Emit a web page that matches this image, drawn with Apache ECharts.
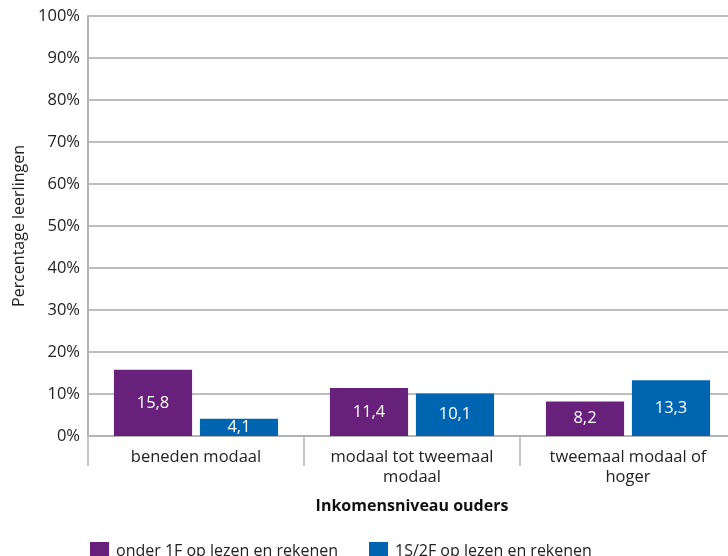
<!DOCTYPE html>
<html><head><meta charset="utf-8">
<script src="https://cdn.jsdelivr.net/npm/echarts@6/dist/echarts.min.js"></script>
<style>html,body{margin:0;padding:0;background:#fff;overflow:hidden}#c{width:736px;height:556px}</style>
</head><body><div id="c"></div>
<script>
const categories = ['beneden modaal', 'modaal tot tweemaal\nmodaal', 'tweemaal modaal of\nhoger'];
const seriesNames = ['onder 1F op lezen en rekenen', '1S/2F op lezen en rekenen'];
const onder1F = [15.8, 11.4, 8.2];
const s2F = [4.1, 10.1, 13.3];
const colors = ['#68217a', '#0065b0'];
const FONT = 'Open Sans';
const chart = echarts.init(document.getElementById('c'), null, {renderer: 'canvas'});
const fmt = p => String(p.value).replace('.', ',');
chart.setOption({
  animation: false,
  textStyle: {fontFamily: FONT},
  grid: {left: 88, right: 0, top: 16, height: 420, containLabel: false},
  legend: {
    left: 85, top: 537, itemWidth: 19, itemHeight: 19, itemGap: 31,
    icon: 'rect',
    textStyle: {fontFamily: FONT, fontSize: 16, color: '#222', padding: [0, 0, 0, 2]},
    data: seriesNames
  },
  xAxis: {
    type: 'category', data: categories,
    name: 'Inkomensniveau ouders', nameLocation: 'middle', nameGap: 62,
    nameTextStyle: {fontFamily: FONT, fontSize: 16, fontWeight: 'bold', color: '#111'},
    axisLine: {lineStyle: {color: '#b4b4b4', width: 2}},
    axisTick: {show: true, length: 30, alignWithLabel: false, lineStyle: {color: '#b4b4b4', width: 1.5}},
    axisLabel: {fontFamily: FONT, fontSize: 16.5, color: '#222', margin: 11, lineHeight: 20, interval: 0}
  },
  yAxis: {
    type: 'value', min: 0, max: 100, interval: 10,
    name: 'Percentage leerlingen', nameLocation: 'middle', nameGap: 61,
    nameTextStyle: {fontFamily: FONT, fontSize: 16, color: '#222'},
    axisLine: {show: true, lineStyle: {color: '#b4b4b4', width: 2}},
    axisTick: {show: false},
    axisLabel: {fontFamily: FONT, fontSize: 16.5, color: '#222', margin: 8, formatter: '{value}%'},
    splitLine: {lineStyle: {color: '#bdbdbd', width: 2}}
  },
  series: [
    {name: seriesNames[0], type: 'bar', data: onder1F, barGap: '10%', barCategoryGap: '24%',
     itemStyle: {color: colors[0]},
     label: {show: true, position: 'inside', color: '#fff', fontFamily: FONT, fontSize: 16.5, formatter: fmt}},
    {name: seriesNames[1], type: 'bar', data: s2F, barGap: '10%', barCategoryGap: '24%',
     itemStyle: {color: colors[1]},
     label: {show: true, position: 'inside', color: '#fff', fontFamily: FONT, fontSize: 16.5, formatter: fmt}}
  ]
});
</script></body></html>
